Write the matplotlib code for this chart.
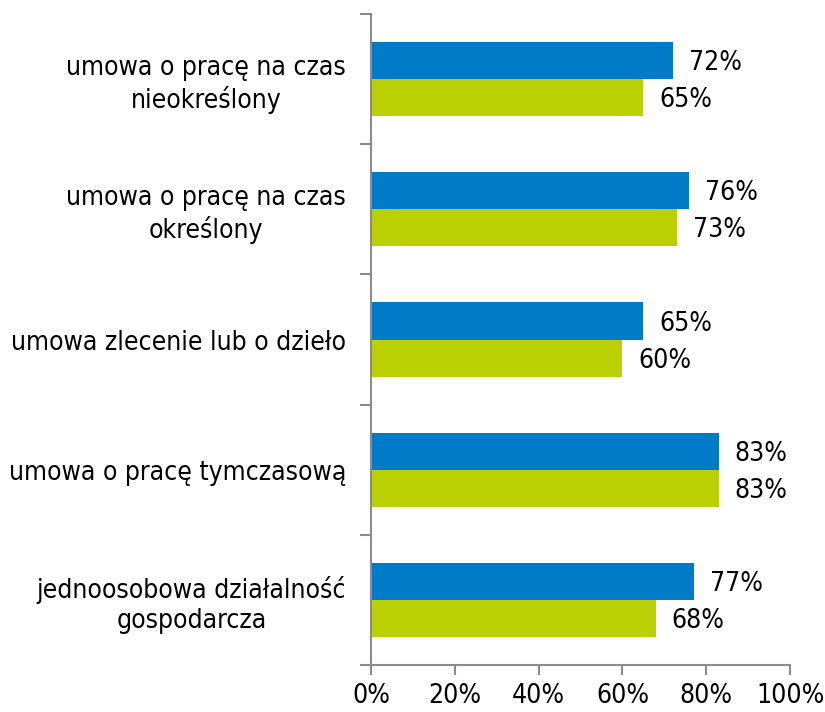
import numpy as np
import matplotlib.pyplot as plt
from matplotlib.ticker import PercentFormatter

categories = ["umowa o pracę na czas\nnieokreślony",
              "umowa o pracę na czas\nokreślony",
              "umowa zlecenie lub o dzieło",
              "umowa o pracę tymczasową",
              "jednoosobowa działalność\ngospodarcza"]
blue_vals = [72, 76, 65, 83, 77]
green_vals = [65, 73, 60, 83, 68]

blue = "#007BC7"
green = "#BAD000"
axis_col = "#8C8C8C"

plt.rcParams['font.family'] = ['DejaVu Sans']

fig = plt.figure(figsize=(8.25, 7.12), dpi=100)
ax = fig.add_axes([0.4497, 0.066, 0.5079, 0.9143])

y = np.arange(len(categories))
h = 0.285
ax.barh(y - h / 2, blue_vals, height=h, color=blue)
ax.barh(y + h / 2, green_vals, height=h, color=green)

for i in range(len(categories)):
    ax.text(blue_vals[i] + 3.8, y[i] - h / 2 + 0.02, f"{blue_vals[i]}%", va='center', ha='left',
            fontsize=19, fontstretch='condensed')
    ax.text(green_vals[i] + 3.8, y[i] + h / 2 + 0.02, f"{green_vals[i]}%", va='center', ha='left',
            fontsize=19, fontstretch='condensed')

ax.set_xlim(0, 100)
ax.set_ylim(len(categories) - 0.5, -0.5)
ax.set_xticks([0, 20, 40, 60, 80, 100])
ax.xaxis.set_major_formatter(PercentFormatter(decimals=0))
for t in ax.get_xticklabels():
    t.set_fontstretch('condensed')

# category labels between boundary ticks
ax.set_yticks(np.arange(-0.5, len(categories), 1))
ax.set_yticklabels([])
ax.set_yticks(y, minor=True)
ax.set_yticklabels(categories, minor=True, fontsize=19, multialignment='center',
                   fontstretch='condensed')
ax.tick_params(axis='y', which='minor', length=0, pad=18)
ax.tick_params(axis='y', which='major', length=8, color=axis_col, width=1.5)
ax.tick_params(axis='x', length=7, color=axis_col, width=1.5, labelsize=19, pad=6)

for s in ['top', 'right']:
    ax.spines[s].set_visible(False)
for s in ['left', 'bottom']:
    ax.spines[s].set_color(axis_col)
    ax.spines[s].set_linewidth(1.5)

fig.savefig("out.png", dpi=100)
